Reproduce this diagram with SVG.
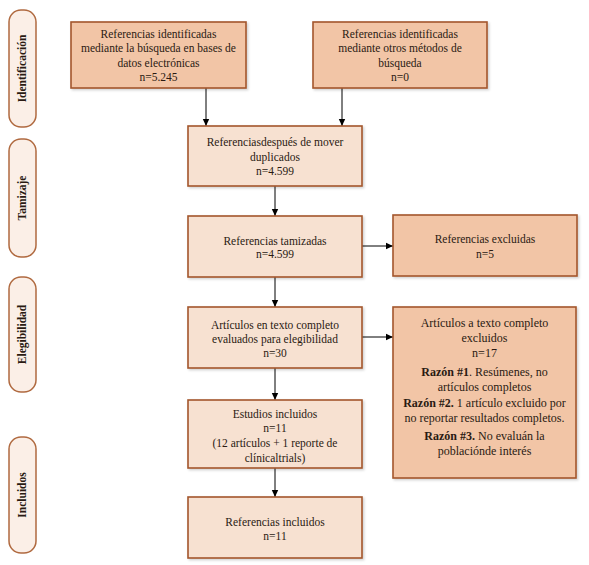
<svg xmlns="http://www.w3.org/2000/svg" width="589" height="565" viewBox="0 0 589 565">
<defs>
<style>
.t{font-family:"Liberation Serif","Times New Roman",serif;font-size:11.5px;fill:#2a1a12;text-anchor:middle}
.t2{font-family:"Liberation Serif","Times New Roman",serif;font-size:12px;fill:#2a1a12;text-anchor:middle}
.b{font-weight:bold}
.side{fill:#fbefe7;stroke:#b06a40;stroke-width:1.5}
.dark{fill:#f2c5a6;stroke:#a3562c;stroke-width:1.6}
.light{fill:#f7e1d1;stroke:#a3562c;stroke-width:1.6}
.st{font-family:"Liberation Serif","Times New Roman",serif;font-size:11.5px;font-weight:bold;fill:#2a1a12;text-anchor:middle}
.c{stroke:#000;stroke-width:1;fill:none;marker-end:url(#ah)}
</style>
<marker id="ah" markerWidth="8" markerHeight="8" refX="7" refY="4" orient="auto" markerUnits="userSpaceOnUse">
<path d="M0,0.8 L7,4 L0,7.2 Z" fill="#000"/>
</marker>
<filter id="sh" x="-5%" y="-5%" width="115%" height="115%">
<feDropShadow dx="1.5" dy="1.5" stdDeviation="1" flood-color="#000" flood-opacity="0.18"/>
</filter>
</defs>
<rect width="589" height="565" fill="#fff"/>

<g id="side-identificacion">
<rect class="side" x="9" y="10" width="27" height="117" rx="12"/>
<text class="st" transform="translate(26,68.5) rotate(-90)">Identificación</text>
</g>
<g id="side-tamizaje">
<rect class="side" x="9" y="139" width="27" height="118" rx="12"/>
<text class="st" transform="translate(26,198) rotate(-90)">Tamizaje</text>
</g>
<g id="side-elegibilidad">
<rect class="side" x="9" y="277" width="27" height="115" rx="12"/>
<text class="st" transform="translate(26,334.5) rotate(-90)">Elegibilidad</text>
</g>
<g id="side-incluidos">
<rect class="side" x="9" y="437" width="27" height="116" rx="12"/>
<text class="st" transform="translate(26,495) rotate(-90)">Incluidos</text>
</g>

<g id="connectors">
<line class="c" x1="206" y1="88" x2="206" y2="126"/>
<line class="c" x1="342" y1="88" x2="342" y2="126"/>
<line class="c" x1="275" y1="186" x2="275" y2="216"/>
<line class="c" x1="362" y1="246" x2="393" y2="246"/>
<line class="c" x1="275" y1="277" x2="275" y2="307"/>
<line class="c" x1="362" y1="337" x2="393" y2="337"/>
<line class="c" x1="275" y1="368" x2="275" y2="400"/>
<line class="c" x1="275" y1="468" x2="275" y2="497"/>
</g>

<g id="box-bases-datos">
<rect class="dark" filter="url(#sh)" x="71" y="22" width="175" height="66"/>
<text class="t" x="158.5" y="38">Referencias identificadas</text>
<text class="t" x="158.5" y="52">mediante la búsqueda en bases de</text>
<text class="t" x="158.5" y="67">datos electrónicas</text>
<text class="t" x="158.5" y="81">n=5.245</text>
</g>
<g id="box-otros-metodos">
<rect class="dark" filter="url(#sh)" x="313" y="22" width="174" height="66"/>
<text class="t" x="400" y="38">Referencias identificadas</text>
<text class="t" x="400" y="52">mediante otros métodos de</text>
<text class="t" x="400" y="67">búsqueda</text>
<text class="t" x="400" y="81">n=0</text>
</g>
<g id="box-duplicados">
<rect class="light" filter="url(#sh)" x="188" y="126" width="174" height="60"/>
<text class="t" x="275" y="146">Referenciasdespués de mover</text>
<text class="t" x="275" y="161">duplicados</text>
<text class="t" x="275" y="175">n=4.599</text>
</g>
<g id="box-tamizadas">
<rect class="light" filter="url(#sh)" x="188" y="216" width="174" height="61"/>
<text class="t" x="275" y="245">Referencias tamizadas</text>
<text class="t" x="275" y="258">n=4.599</text>
</g>
<g id="box-excluidas">
<rect class="dark" filter="url(#sh)" x="393" y="215" width="184" height="61"/>
<text class="t" x="485" y="243">Referencias excluidas</text>
<text class="t" x="485" y="258">n=5</text>
</g>
<g id="box-evaluados">
<rect class="light" filter="url(#sh)" x="188" y="307" width="174" height="61"/>
<text class="t" x="275" y="329">Artículos en texto completo</text>
<text class="t" x="275" y="343">evaluados para elegibilidad</text>
<text class="t" x="275" y="357">n=30</text>
</g>
<g id="box-texto-excluidos">
<rect class="dark" filter="url(#sh)" x="393" y="307" width="183" height="171"/>
<text class="t2" x="484.5" y="327">Artículos a texto completo</text>
<text class="t2" x="484.5" y="342">excluidos</text>
<text class="t2" x="484.5" y="357">n=17</text>
<text class="t2" x="484.5" y="376"><tspan class="b">Razón #1</tspan>. Resúmenes, no</text>
<text class="t2" x="484.5" y="391">artículos completos</text>
<text class="t2" x="484.5" y="407"><tspan class="b">Razón #2.</tspan> 1 artículo excluido por</text>
<text class="t2" x="484.5" y="422">no reportar resultados completos.</text>
<text class="t2" x="484.5" y="440"><tspan class="b">Razón #3.</tspan> No evaluán la</text>
<text class="t2" x="484.5" y="455">poblaciónde interés</text>
</g>
<g id="box-estudios-incluidos">
<rect class="light" filter="url(#sh)" x="188" y="400" width="174" height="68"/>
<text class="t" x="275" y="418">Estudios incluidos</text>
<text class="t" x="275" y="432">n=11</text>
<text class="t" x="275" y="447">(12 artículos + 1 reporte de</text>
<text class="t" x="275" y="462">clínicaltrials)</text>
</g>
<g id="box-referencias-incluidos">
<rect class="light" filter="url(#sh)" x="188" y="497" width="174" height="61"/>
<text class="t" x="275" y="526">Referencias incluidos</text>
<text class="t" x="275" y="540">n=11</text>
</g>
</svg>
